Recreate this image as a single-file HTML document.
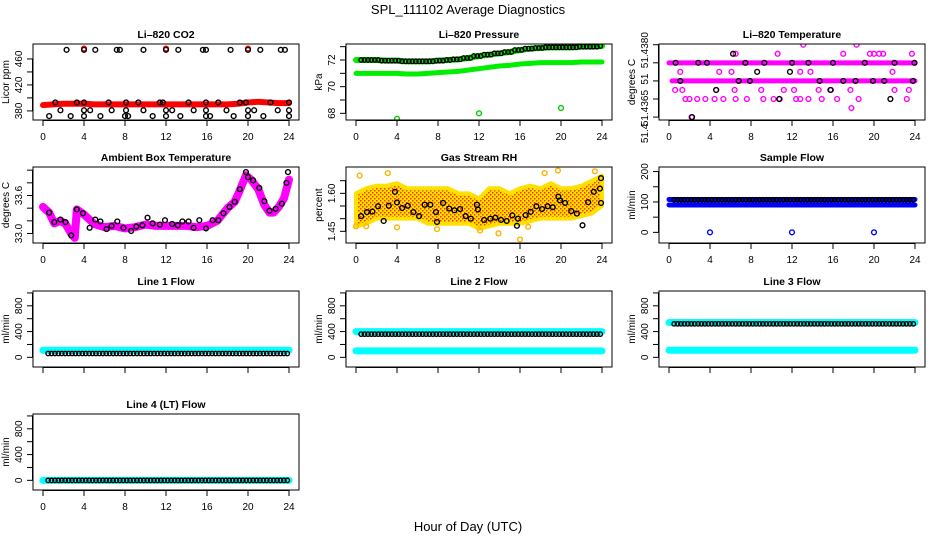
<!DOCTYPE html>
<html><head><meta charset="utf-8"><style>
html,body{margin:0;padding:0;background:#fff;}
svg{display:block;font-family:"Liberation Sans",sans-serif;}
</style></head><body>
<svg id="c" width="936" height="540" viewBox="0 0 936 540" xmlns="http://www.w3.org/2000/svg">
<text x="468" y="14" text-anchor="middle" font-size="13">SPL_111102  Average Diagnostics</text>
<text x="468" y="531" text-anchor="middle" font-size="13">Hour of Day (UTC)</text>
</svg>
<script>
const xTicks=[0,4,8,12,16,20,24];
const hours=[0,1,2,3,4,5,6,7,8,9,10,11,12,13,14,15,16,17,18,19,20,21,22,23,24];
// CO2
const co2Red=[389,390,391,391,391,390,390,390,390,390,390,390,390,390,390,390,390,390,390,391,393,394,393,392,392];
const co2RedOutT=[4,12,20];
const co2RedOutV=[476,476,476];
const co2BlackT=[2.3,4.0,5.1,7.2,7.5,9.8,12,13.2,15.6,15.9,18.3,20,21.2,23.2,23.6,
1.2,3.3,4,6.4,8.1,9.3,11.4,11.7,14.2,15.9,17.1,19.2,19.8,22.2,24,
1.7,4,4.6,6.7,8.1,9.8,12,12.6,14.7,15.9,17.9,20,20.6,22.9,24,
0.6,2.7,4,5.6,8,8.3,10.7,12,13.4,15.9,16.3,18.6,20,21.5,24];
const co2BlackV=[474,474,474,474,474,474,474,474,474,474,474,474,474,474,474,
393,393,393,393,393,393,393,393,393,393,393,393,393,393,393,
381,381,381,381,381,381,381,381,381,381,381,381,381,381,381,
372,372,372,372,372,372,372,372,372,372,372,372,372,372,372];
// Pressure
const pressUpper=[72,72,72,71.95,71.95,71.9,71.9,71.9,71.95,72,72.05,72.15,72.3,72.4,72.5,72.6,72.75,72.85,72.9,72.95,72.95,72.95,73,73,73.05];
const pressLower=[71,71,71,71,71,70.95,70.95,71,71.05,71.1,71.15,71.25,71.35,71.45,71.55,71.6,71.7,71.75,71.8,71.8,71.8,71.8,71.85,71.85,71.85];
const pressOutT=[4,12,20];
const pressOutV=[67.6,68,68.4];
// Li-820 temperature
const tempBandA=51.4375, tempBandB=51.4370;
const tempMagT=[6.5,10.6,17,19.6,20,20.5,20.9,23.7,13.1,18.3,1.1,4.9,6.1,12.8,13.8,21.8,
0.6,1.3,4.6,6.4,9,11.2,12.2,14.6,15.8,17.7,22,23.4,
1.6,2,2.75,3.55,4.45,5.3,6.5,7.6,9.2,10.2,10.8,12.4,12.8,13.6,14.9,16.4,18.5,23.2,17.8,2.2];
const tempMagV=[51.43775,51.43775,51.43775,51.43775,51.43775,51.43775,51.43775,51.43775,51.4380,51.4380,
51.43725,51.43725,51.43725,51.43725,51.43725,51.43725,
51.43675,51.43675,51.43675,51.43675,51.43675,51.43675,51.43675,51.43675,51.43675,51.43675,51.43675,51.43675,
51.4365,51.4365,51.4365,51.4365,51.4365,51.4365,51.4365,51.4365,51.4365,51.4365,51.4365,51.4365,51.4365,51.4365,51.4365,51.4365,51.4365,51.4365,51.43625,51.4360];
const tempBlackT=[6.25,0.65,2.85,3.7,7.45,9.3,12,13.6,16,19.1,22,23.95,8.6,11.8,1.1,6.8,7.9,14.7,17,18.2,19.9,21,23.8,4.6,15.75,10.75,21.6,2.25];
const tempBlackV=[51.43775,51.4375,51.4375,51.4375,51.4375,51.4375,51.4375,51.4375,51.4375,51.4375,51.4375,51.4375,51.43725,51.43725,
51.4370,51.4370,51.4370,51.4370,51.4370,51.4370,51.4370,51.4370,51.4370,51.43675,51.43675,51.4365,51.4365,51.4360];
// Ambient
const ambMagT=[0,0.6,1.1,1.7,2.2,2.75,3.1,3.3,4,5,6,7,8,9,10,11,12,13,14,15,16,17,18,18.7,19.2,19.8,20.3,21,21.6,22.1,22.5,23,23.5,24];
const ambMagV=[33.42,33.33,33.16,33.2,33.15,33.0,32.93,33.38,33.3,33.15,33.1,33.12,33.08,33.1,33.14,33.12,33.12,33.12,33.12,33.1,33.12,33.2,33.4,33.5,33.68,33.92,33.85,33.7,33.45,33.33,33.33,33.42,33.55,33.85];
const ambBlackT=[0.6,1.1,1.7,2.2,2.75,3.3,3.9,4.55,5.1,5.6,6.2,6.7,7.25,7.85,8.6,9.1,9.7,10.2,10.7,11.4,11.9,12.6,13.15,13.6,14.2,14.7,15.25,15.9,16.55,17.1,17.6,18.2,18.7,19.2,19.8,20,20.5,21.1,21.6,22.1,22.7,23.3,23.75,23.9];
const ambBlackV=[33.33,33.18,33.22,33.18,32.97,33.38,33.32,33.09,33.22,33.19,33.07,33.12,33.19,33.09,33.04,33.11,33.13,33.25,33.16,33.14,33.21,33.15,33.13,33.19,33.19,33.09,33.21,33.08,33.21,33.21,33.32,33.42,33.5,33.7,33.97,33.89,33.84,33.72,33.51,33.36,33.39,33.47,33.8,33.97];
// RH
const rhUpper=[1.60,1.62,1.63,1.63,1.64,1.62,1.62,1.62,1.62,1.62,1.60,1.60,1.58,1.62,1.62,1.60,1.62,1.63,1.62,1.64,1.62,1.62,1.63,1.65,1.67];
const rhLower=[1.47,1.48,1.50,1.50,1.50,1.50,1.50,1.48,1.48,1.48,1.48,1.48,1.46,1.47,1.48,1.48,1.48,1.49,1.50,1.50,1.50,1.50,1.51,1.52,1.55];
const rhOutT=[0.35,3.1,18.4,19.7,23.3,13.9,16,0,1,16.8,7.9,12.1,4];
const rhOutV=[1.67,1.68,1.68,1.69,1.687,1.442,1.418,1.47,1.47,1.468,1.459,1.453,1.466];
const rhBlackT=[0.5,1.07,1.6,2.15,2.7,3.2,3.8,4,4.5,5.05,5.6,6.15,6.7,7.25,7.8,7.9,8.5,9.1,9.6,10.15,10.7,11.2,11.8,11.9,12.5,13.1,13.6,14.15,14.7,15.25,15.8,15.7,16.55,17.05,17.6,18.15,18.7,19.2,19.75,19.9,20.4,21,21.55,22.1,22.65,23.2,23.8,23.9,23.9];
const rhBlackV=[1.51,1.526,1.528,1.549,1.491,1.551,1.606,1.564,1.542,1.551,1.526,1.51,1.555,1.555,1.526,1.487,1.562,1.54,1.533,1.538,1.51,1.5,1.555,1.536,1.495,1.5,1.504,1.495,1.491,1.513,1.5,1.472,1.514,1.527,1.549,1.538,1.549,1.545,1.587,1.572,1.562,1.53,1.52,1.474,1.565,1.606,1.619,1.562,1.66];
// Flows
const sampleBlue=90, sampleBlueTop=108, sampleBlack=107;
const sampleOutT=[4,12,20];
const sampleOutV=[0,0,0];
const line1Cyan=[110], line1Black=60;
const line2Cyan=[400,100], line2Black=360;
const line3Cyan=[540,110], line3Black=520;
const line4Cyan=[0], line4Black=0;

const svg=document.getElementById('c');
const NS='http://www.w3.org/2000/svg';
function mk(tag,attrs,parent){const e=document.createElementNS(NS,tag);for(const k in attrs)e.setAttribute(k,attrs[k]);(parent||svg).appendChild(e);return e;}

const defs=mk('defs',{});
const pat=mk('pattern',{id:'rhpat',width:4,height:4,patternUnits:'userSpaceOnUse'},defs);
mk('rect',{width:4,height:4,fill:'#ffe000'},pat);
mk('rect',{width:1.5,height:1.5,fill:'#ff3000'},pat);
mk('rect',{x:2,y:2,width:1.5,height:1.5,fill:'#ff3000'},pat);

const colL=[33,346,659], rowT=[44,167,291,414], W=266, H=76;
function panel(o){
  const L=colL[o.col],T=rowT[o.row];
  const g=mk('g',{});
  
  
  const x=t=>L+10+t/24*(W-20);
  const y=v=>T+H-(v-o.ylim[0])/(o.ylim[1]-o.ylim[0])*H;
  const tt=mk('text',{x:L+W/2,y:T-6,'text-anchor':'middle','font-size':10.5,'font-weight':'bold'},g);
  tt.textContent=o.title;
  
  
  const cp=mk('clipPath',{id:'cp'+o.name},defs);
  mk('rect',{x:L,y:T,width:W,height:H},cp);
  const marks=mk('g',{'clip-path':'url(#cp'+o.name+')'},g);
  
  
  o.draw(marks,x,y);
  const box=mk('rect',{x:L,y:T,width:W,height:H,fill:'none',stroke:'#000','stroke-width':1},g);
  
  
  const xa=mk('g',{},g);
  
  
  mk('line',{x1:x(0),x2:x(24),y1:T+H+0.5,y2:T+H+0.5,stroke:'#000'},xa);
  xTicks.forEach(t=>{mk('line',{x1:x(t),x2:x(t),y1:T+H,y2:T+H+6,stroke:'#000'},xa);
    if(o.xlab){const tx=mk('text',{x:x(t),y:T+H+20,'text-anchor':'middle','font-size':10},xa);tx.textContent=t;}});
  const ya=mk('g',{},g);
  
  
  const tk=o.ticks;
  mk('line',{x1:L-0.5,x2:L-0.5,y1:y(tk[0]),y2:y(tk[tk.length-1]),stroke:'#000'},ya);
  tk.forEach(v=>mk('line',{x1:L-6,x2:L,y1:y(v),y2:y(v),stroke:'#000'},ya));
  o.labels.forEach((lb,i)=>{const yy=y(o.labelVals[i]);const tx=mk('text',{x:L-11,y:yy,'text-anchor':'middle','font-size':10,transform:`rotate(-90 ${L-11} ${yy})`},ya);tx.textContent=lb;});
  const yt=mk('text',{x:L-24,y:T+H/2,'text-anchor':'middle','font-size':10,transform:`rotate(-90 ${L-24} ${T+H/2})`},g);
  yt.textContent=o.ylab;
  
  
}
function circ(g,cx,cy,col,r){const c=mk('circle',{cx:cx,cy:cy,r:r||2.4,fill:'none',stroke:col,'stroke-width':1.4},g);return c;}
function band(g,xs,ys,col,w,name){const p=mk('polyline',{points:xs.map((v,i)=>v+','+ys[i]).join(' '),fill:'none',stroke:col,'stroke-width':w,'stroke-linecap':'round','stroke-linejoin':'round'},g);return p;}
const flowTimes=[];for(let t=0.5;t<=23.95;t+=1/3)flowTimes.push(t);

panel({name:'co2-panel',title:'Li–820 CO2',col:0,row:0,ylim:[366,483],ticks:[380,400,420,440,460],labels:['380','420','460'],labelVals:[380,420,460],ylab:'Licor ppm',xlab:true,
 draw(g,x,y){band(g,hours.map(x),co2Red.map(y),'#ff0000',6,'co2-red-series');
  co2RedOutT.forEach((t,i)=>circ(g,x(t),y(co2RedOutV[i]),'#ff0000'));
  co2BlackT.forEach((t,i)=>circ(g,x(t),y(co2BlackV[i]),'#000'));}});
panel({name:'pressure-panel',title:'Li–820 Pressure',col:1,row:0,ylim:[67.5,73.2],ticks:[68,69,70,71,72,73],labels:['68','70','72'],labelVals:[68,70,72],ylab:'kPa',xlab:true,
 draw(g,x,y){band(g,hours.map(x),pressLower.map(y),'#00ee00',5,'pressure-lower-series');
  band(g,hours.map(x),pressUpper.map(y),'#00ee00',6,'pressure-upper-series');
  flowTimes.forEach(t=>{const i=Math.min(24,Math.round(t));circ(g,x(t),y(pressUpper[i]),'#000',2.2);});
  pressOutT.forEach((t,i)=>circ(g,x(t),y(pressOutV[i]),'#00cc00'));}});
panel({name:'li820-temp-panel',title:'Li–820 Temperature',col:2,row:0,ylim:[51.43592,51.43802],ticks:[51.4360,51.4365,51.4370,51.4375,51.4380],labels:['51.4380','51','51.4365','51.4'],labelVals:[51.43785,51.43705,51.43625,51.43555],ylab:'degrees C',xlab:true,
 draw(g,x,y){band(g,[x(0),x(24)],[y(tempBandA),y(tempBandA)],'#ff00ff',5,'temp-band-upper');
  band(g,[x(0.3),x(24)],[y(tempBandB),y(tempBandB)],'#ff00ff',5,'temp-band-lower');
  tempMagT.forEach((t,i)=>circ(g,x(t),y(tempMagV[i]),'#ff00ff'));
  tempBlackT.forEach((t,i)=>circ(g,x(t),y(tempBlackV[i]),'#000'));}});
panel({name:'ambient-temp-panel',title:'Ambient Box Temperature',col:0,row:1,ylim:[32.85,34.05],ticks:[33.0,33.2,33.4,33.6,33.8,34.0],labels:['33.0','33.6'],labelVals:[33.0,33.6],ylab:'degrees C',xlab:true,
 draw(g,x,y){band(g,ambMagT.map(x),ambMagV.map(y),'#ff00ff',8,'ambient-magenta-series');
  ambBlackT.forEach((t,i)=>circ(g,x(t),y(ambBlackV[i]),'#000'));}});
panel({name:'rh-panel',title:'Gas Stream RH',col:1,row:1,ylim:[1.404,1.704],ticks:[1.45,1.50,1.55,1.60,1.65],labels:['1.45','1.60'],labelVals:[1.45,1.60],ylab:'percent',xlab:true,
 draw(g,x,y){const pts=hours.map((h,i)=>x(h)+','+y(rhUpper[i])).concat(hours.slice().reverse().map((h,j)=>x(h)+','+y(rhLower[24-j])));
  const p=mk('polygon',{points:pts.join(' '),fill:'url(#rhpat)',stroke:'#ffe000','stroke-width':4,'stroke-linejoin':'round'},g);
  
  
  rhOutT.forEach((t,i)=>circ(g,x(t),y(rhOutV[i]),'#ffb000'));
  rhBlackT.forEach((t,i)=>circ(g,x(t),y(rhBlackV[i]),'#000'));}});
panel({name:'sample-flow-panel',title:'Sample Flow',col:2,row:1,ylim:[-35,215],ticks:[0,50,100,150,200],labels:['0','100','200'],labelVals:[0,100,200],ylab:'ml/min',xlab:true,
 draw(g,x,y){band(g,[x(0),x(24)],[y(sampleBlue),y(sampleBlue)],'#0000ff',5,'sample-blue-series');
  band(g,[x(0),x(24)],[y(sampleBlueTop),y(sampleBlueTop)],'#0000ff',5,'sample-blue-upper');
  flowTimes.forEach(t=>circ(g,x(t),y(sampleBlack),'#000',2.2));
  sampleOutT.forEach((t,i)=>circ(g,x(t),y(sampleOutV[i]),'#0000ff'));}});
function flowPanel(name,title,col,row,cyan,black,xlab){
 panel({name:name,title:title,col:col,row:row,ylim:[-150,1030],ticks:[0,200,400,600,800,1000],labels:['0','400','800'],labelVals:[0,400,800],ylab:'ml/min',xlab:xlab,
 draw(g,x,y){cyan.forEach(v=>band(g,[x(0),x(24)],[y(v),y(v)],'#00ffff',7,'cyan-series'));
  flowTimes.forEach(t=>circ(g,x(t),y(black),'#000',2.2));}});
}
flowPanel('line1-flow-panel','Line 1 Flow',0,2,line1Cyan,line1Black,false);
flowPanel('line2-flow-panel','Line 2 Flow',1,2,line2Cyan,line2Black,false);
flowPanel('line3-flow-panel','Line 3 Flow',2,2,line3Cyan,line3Black,false);
flowPanel('line4-flow-panel','Line 4 (LT) Flow',0,3,line4Cyan,line4Black,true);
</script>
</body></html>
